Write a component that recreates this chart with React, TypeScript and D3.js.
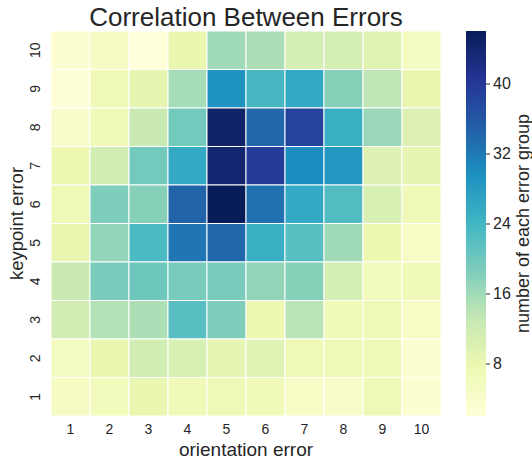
import React from 'react'
import * as d3 from 'd3'

// keypoint error rows (top row = 10), orientation error columns 1..10
const xCats = ['1', '2', '3', '4', '5', '6', '7', '8', '9', '10']
const yCats = ['10', '9', '8', '7', '6', '5', '4', '3', '2', '1']

const row10 = [3, 5, 2, 8, 16, 15, 11, 11, 9.5, 5.5]
const row9 = [2.4, 7, 8.5, 15.5, 29, 23.5, 26, 18, 13.5, 8]
const row8 = [4, 6.5, 12.5, 19.5, 44.5, 34, 38.5, 25, 16.5, 10]
const row7 = [7.3, 11.5, 19.5, 26, 44, 39.5, 30, 28.5, 10, 8.5]
const row6 = [7, 18.5, 18, 34.5, 46, 33, 26, 22.5, 10.5, 6.5]
const row5 = [8, 17, 23, 32.5, 34, 25, 22, 16, 7.5, 4.5]
const row4 = [12.5, 19, 20, 19, 19, 17, 18, 11, 6, 6.5]
const row3 = [11.5, 14.5, 15, 22, 18.5, 7.5, 14, 6.5, 7, 4.5]
const row2 = [5.5, 8, 11.5, 10.5, 8.5, 9.5, 7, 7, 7, 3]
const row1 = [5, 6, 8, 6.5, 7, 6.5, 4.5, 4, 7, 3]
const rows = [row10, row9, row8, row7, row6, row5, row4, row3, row2, row1]

const cbTicks = [8, 16, 24, 32, 40]
const ylgnbu = ['#ffffd9', '#edf8b1', '#c7e9b4', '#7fcdbb', '#41b6c4', '#1d91c0', '#225ea8', '#253494', '#081d58']

const W = 532
const H = 461
const font = 'Arial, "Liberation Sans", sans-serif'
const textColor = '#262626'

export default function App() {
  const svgRef = React.useRef<SVGSVGElement>(null)

  React.useEffect(() => {
    const svg = d3.select(svgRef.current)
    svg.selectAll('*').remove()

    const left = 51, right = 441, top = 31, bottom = 416
    const all = rows.flat()
    const vmin = d3.min(all) as number
    const vmax = d3.max(all) as number

    // matplotlib's YlGnBu is a linear blend between these 9 stops
    const t = d3.scaleLinear().domain([vmin, vmax]).range([0, 1])
    const stops = ylgnbu.map((_, i) => i / (ylgnbu.length - 1))
    const cmap = d3.scaleLinear<string>().domain(stops).range(ylgnbu).interpolate(d3.interpolateRgb)
    const color = (v: number) => cmap(t(v))

    const x = d3.scaleBand().domain(xCats).range([left, right])
    const y = d3.scaleBand().domain(yCats).range([top, bottom])

    const cells = rows.flatMap((r, i) => r.map((v, j) => ({ xk: xCats[j], yk: yCats[i], v })))

    svg.append('g')
      .selectAll('rect')
      .data(cells)
      .enter()
      .append('rect')
      .attr('x', d => x(d.xk)!)
      .attr('y', d => y(d.yk)!)
      .attr('width', x.bandwidth())
      .attr('height', y.bandwidth())
      .attr('fill', d => color(d.v))
      .attr('stroke', '#fff')
      .attr('stroke-width', 1)

    // x ticks
    svg.append('g')
      .selectAll('text')
      .data(xCats)
      .enter()
      .append('text')
      .attr('x', d => x(d)! + x.bandwidth() / 2)
      .attr('y', 434)
      .attr('text-anchor', 'middle')
      .style('font-family', font)
      .style('font-size', '14px')
      .attr('fill', textColor)
      .text(d => d)

    // y ticks (rotated)
    svg.append('g')
      .selectAll('text')
      .data(yCats)
      .enter()
      .append('text')
      .attr('transform', d => `translate(40,${y(d)! + y.bandwidth() / 2}) rotate(-90)`)
      .attr('text-anchor', 'middle')
      .style('font-family', font)
      .style('font-size', '14px')
      .attr('fill', textColor)
      .text(d => d)

    svg.append('text')
      .attr('x', (left + right) / 2)
      .attr('y', 456)
      .attr('text-anchor', 'middle')
      .style('font-family', font)
      .style('font-size', '19px')
      .attr('fill', textColor)
      .text('orientation error')

    svg.append('text')
      .attr('transform', `translate(23,${(top + bottom) / 2}) rotate(-90)`)
      .attr('text-anchor', 'middle')
      .style('font-family', font)
      .style('font-size', '18.5px')
      .attr('fill', textColor)
      .text('keypoint error')

    svg.append('text')
      .attr('x', (left + right) / 2)
      .attr('y', 26)
      .attr('text-anchor', 'middle')
      .style('font-family', font)
      .style('font-size', '26px')
      .attr('fill', textColor)
      .text('Correlation Between Errors')

    // colorbar
    const cbX = 466, cbW = 20
    const cbY = d3.scaleLinear().domain([vmin, vmax]).range([bottom, top])
    const grad = svg.append('defs').append('linearGradient')
      .attr('id', 'cb').attr('x1', 0).attr('y1', 1).attr('x2', 0).attr('y2', 0)
    ylgnbu.forEach((c, i) => {
      grad.append('stop').attr('offset', stops[i]).attr('stop-color', c)
    })
    svg.append('rect')
      .attr('x', cbX).attr('y', top)
      .attr('width', cbW).attr('height', bottom - top)
      .attr('fill', 'url(#cb)')

    const axis = svg.append('g')
      .attr('transform', `translate(${cbX + cbW},0)`)
      .call(d3.axisRight(cbY).tickValues(cbTicks).tickSize(4).tickPadding(3))
    axis.select('.domain').remove()
    axis.selectAll('line').attr('stroke', textColor)
    axis.selectAll('text')
      .style('font-family', font)
      .style('font-size', '16px')
      .attr('fill', textColor)

    svg.append('text')
      .attr('transform', `translate(529,${(top + bottom) / 2}) rotate(-90)`)
      .attr('text-anchor', 'middle')
      .style('font-family', font)
      .style('font-size', '18px')
      .attr('fill', textColor)
      .text('number of each error group')
  }, [])

  return <svg ref={svgRef} width={W} height={H} style={{ position: 'absolute', left: 0, top: 0 }} />
}
